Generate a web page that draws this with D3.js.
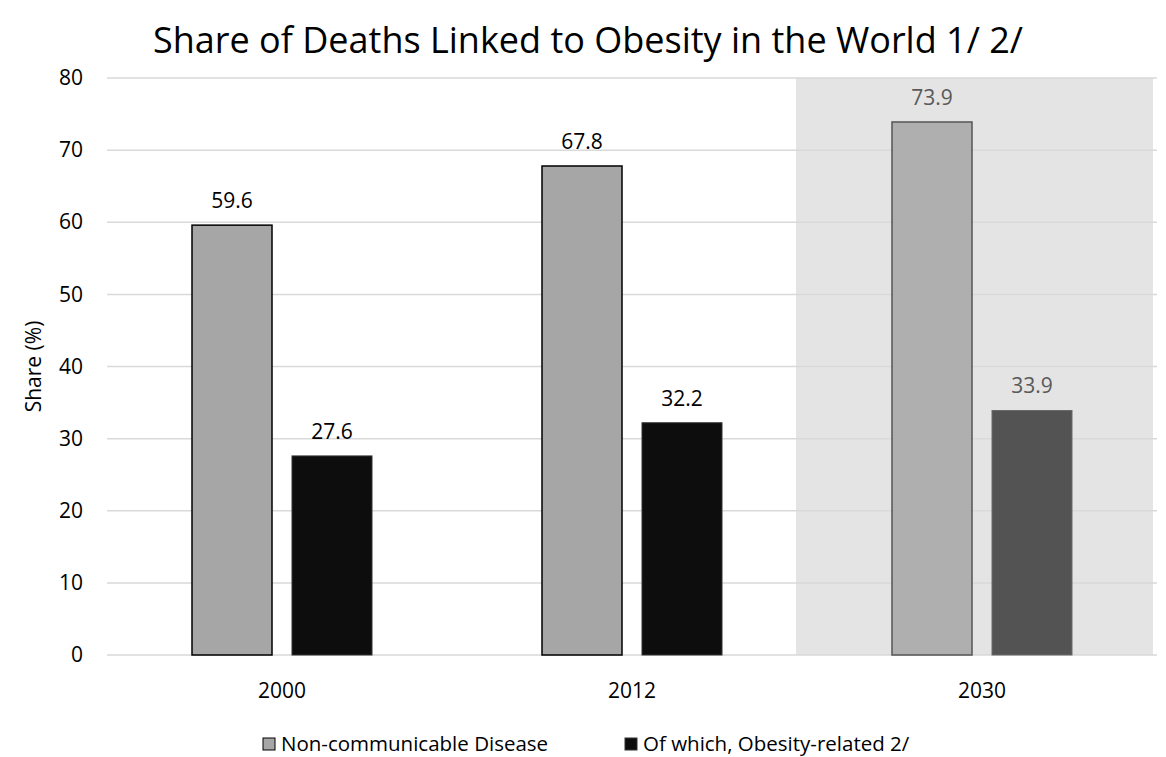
<!DOCTYPE html>
<html><head><meta charset="utf-8">
<script src="https://cdn.jsdelivr.net/npm/d3@7"></script>
<style>body{margin:0;background:#fff;font-family:"Open Sans","Noto Sans",sans-serif;}</style>
</head><body><svg id="c" width="1166" height="757"></svg>
<script>
const categories = ["2000", "2012", "2030"];
const seriesNames = ["Non-communicable Disease", "Of which, Obesity-related 2/"];
const ncdValues = [59.6, 67.8, 73.9];
const obesityValues = [27.6, 32.2, 33.9];
const yTicks = [0, 10, 20, 30, 40, 50, 60, 70, 80];
const projected = ["2030"];

const FONT = '"Open Sans","Noto Sans",sans-serif';
const svg = d3.select("#c");
const W = 1166, H = 757;
const m = {left:107, right:9, top:78, bottom:102};
const x = d3.scaleBand().domain(categories).range([m.left, W - m.right]);
const y = d3.scaleLinear().domain([0, 80]).range([H - m.bottom, m.top]);

// projection shade
projected.forEach(c => {
  svg.append("rect").attr("x", x(c) - 11).attr("y", y(80)).attr("width", x.bandwidth() + 7)
    .attr("height", y(0) - y(80)).attr("fill", "#e4e4e4");
});

// grid
svg.append("g").selectAll("line").data(yTicks).join("line")
  .attr("x1", m.left).attr("x2", W - m.right)
  .attr("y1", d => y(d)).attr("y2", d => y(d))
  .attr("stroke", "#d9d9d9").attr("stroke-width", 1.5);

// y axis labels
const yAxis = d3.axisLeft(y).tickValues(yTicks).tickSize(0).tickPadding(0);
const ya = svg.append("g").attr("transform", `translate(${m.left - 24},0)`).call(yAxis);
ya.select(".domain").remove();
ya.selectAll("text").attr("font-size", 21).attr("fill", "#000").attr("font-family", FONT);

// x axis labels
const xAxis = d3.axisBottom(x).tickSize(0).tickPadding(0);
const xa = svg.append("g").attr("transform", `translate(0,${y(0) + 43})`).call(xAxis);
xa.select(".domain").remove();
xa.selectAll("text").attr("font-size", 21).attr("fill", "#000").attr("dy", "0").attr("y", 0).attr("font-family", FONT);

const bw = 80, gap = 20;
const isProj = c => projected.includes(c);
const data = categories.map((c, i) => ({c, ncd: ncdValues[i], ob: obesityValues[i]}));

// NCD bars
svg.append("g").selectAll("rect").data(data).join("rect")
  .attr("x", d => x(d.c) + x.bandwidth()/2 - gap/2 - bw)
  .attr("y", d => y(d.ncd)).attr("width", bw).attr("height", d => y(0) - y(d.ncd))
  .attr("fill", d => isProj(d.c) ? "#afafaf" : "#a6a6a6")
  .attr("stroke", d => isProj(d.c) ? "#555" : "#000").attr("stroke-width", 1.5);

// Obesity bars
svg.append("g").selectAll("rect").data(data).join("rect")
  .attr("x", d => x(d.c) + x.bandwidth()/2 + gap/2)
  .attr("y", d => y(d.ob)).attr("width", bw).attr("height", d => y(0) - y(d.ob))
  .attr("fill", d => isProj(d.c) ? "#535353" : "#0d0d0d")
  .attr("stroke", d => isProj(d.c) ? "#6a6a6a" : "#333").attr("stroke-width", 1);

// labels
const lab = svg.append("g").attr("font-size", 21).attr("text-anchor", "middle");
data.forEach(d => {
  lab.append("text").attr("x", x(d.c) + x.bandwidth()/2 - gap/2 - bw/2).attr("y", y(d.ncd) - 17)
    .attr("fill", isProj(d.c) ? "#595959" : "#000").text(d.ncd.toFixed(1));
  lab.append("text").attr("x", x(d.c) + x.bandwidth()/2 + gap/2 + bw/2).attr("y", y(d.ob) - 17)
    .attr("fill", isProj(d.c) ? "#595959" : "#000").text(d.ob.toFixed(1));
});

// title
svg.append("text").attr("x", 588).attr("y", 53).attr("text-anchor", "middle")
  .attr("font-size", 36).attr("fill", "#000").text("Share of Deaths Linked to Obesity in the World 1/ 2/");

// y title
svg.append("text").attr("transform", `translate(41,${(y(0)+y(80))/2}) rotate(-90)`)
  .attr("text-anchor", "middle").attr("font-size", 21).attr("fill", "#000").text("Share (%)");

// legend
const leg = [{n: seriesNames[0], fill:"#a6a6a6", stroke:"#000", x:263}, {n: seriesNames[1], fill:"#0d0d0d", stroke:"#333", x:625}];
leg.forEach(l => {
  svg.append("rect").attr("x", l.x).attr("y", 738).attr("width", 12).attr("height", 12)
    .attr("fill", l.fill).attr("stroke", l.stroke).attr("stroke-width", 1);
  svg.append("text").attr("x", l.x + 18).attr("y", 751).attr("font-size", 20.5).attr("fill", "#000").text(l.n);
});
</script></body></html>
